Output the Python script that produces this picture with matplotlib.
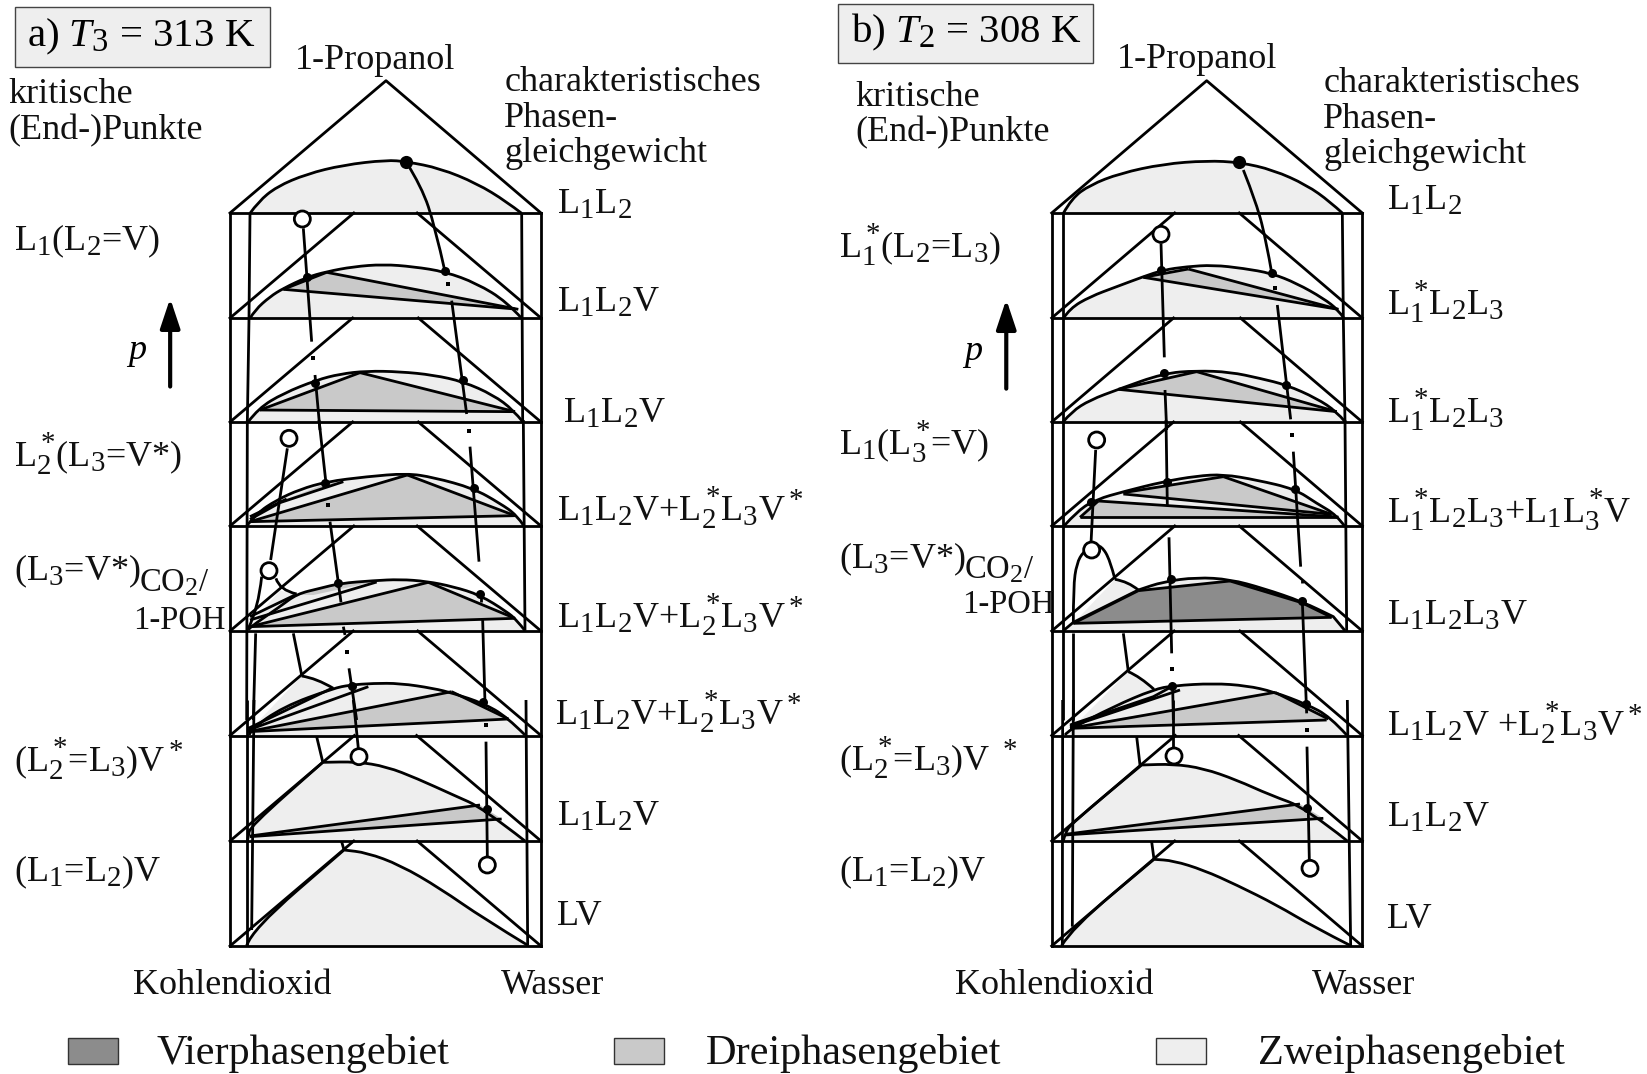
import matplotlib
matplotlib.use('Agg')
import matplotlib.pyplot as plt
import matplotlib._mathtext as mathtext_internal
from matplotlib.path import Path
from matplotlib.patches import PathPatch, Rectangle, Circle, Polygon

plt.rcParams['font.family'] = ['Liberation Serif', 'DejaVu Serif']
plt.rcParams['mathtext.fontset'] = 'custom'
plt.rcParams['mathtext.rm'] = 'Liberation Serif'
plt.rcParams['mathtext.it'] = 'Liberation Serif:italic'
plt.rcParams['mathtext.bf'] = 'Liberation Serif:bold'
plt.rcParams['mathtext.default'] = 'rm'
# subscripts in the picture are bigger than the default
mathtext_internal.SHRINK_FACTOR = 0.8

DARK = '#8c8c8c'
MID = '#c9c9c9'
LIGHT = '#eeeeee'
LW = 2.0
S = 1647 / 1568


def crop(x0, y0, pts):
    return [(x0 + x / 3, y0 + y / 3) for x, y in pts]


def a1(pts): return crop(200, 70, pts)
def a2(pts): return crop(200, 420, pts)
def a3(pts): return crop(200, 700, pts)
def b1(pts): return crop(1030, 70, pts)
def b2(pts): return crop(1030, 420, pts)
def b3(pts): return crop(1030, 700, pts)


plane_y = [213, 318, 422, 526, 631, 735.5, 841, 946]

# panel a -------------------------------------------------------------
a_box = (230, 541, 386, 80.7)
a_domes = [
    a1([(150, 430), (175, 395), (230, 350), (320, 312), (430, 285), (560, 270), (620, 275), (720, 295), (830, 340), (920, 395), (965, 430)]),
    a1([(150, 745), (165, 720), (210, 680), (250, 655), (320, 622), (380, 605), (460, 590), (550, 583), (640, 590), (735, 605), (830, 640), (920, 695), (965, 745)]),
    a1([(145, 1055), (175, 1015), (250, 970), (350, 930), (420, 912), (500, 903), (600, 905), (700, 915), (790, 935), (880, 975), (940, 1020), (968, 1055)]),
    a2([(140, 318), (170, 280), (230, 240), (300, 208), (380, 185), (500, 170), (620, 160), (700, 172), (820, 205), (900, 250), (950, 285), (972, 318)]),
    a2([(145, 630), (145, 625), (240, 560), (290, 522), (360, 505), (420, 490), (520, 482), (600, 478), (680, 484), (760, 500), (840, 525), (920, 575), (950, 600), (975, 632)]),
    a2([(148, 945), (150, 930), (250, 860), (400, 805), (450, 795), (520, 790), (600, 790), (700, 805), (760, 820), (850, 850), (920, 890), (975, 945)]),
    a3([(142, 423), (145, 410), (150, 380), (368, 187), (368, 187), (470, 185), (560, 200), (650, 235), (760, 285), (850, 325), (975, 423)]),
    a3([(140, 737), (155, 690), (432, 450), (432, 450), (500, 458), (600, 495), (720, 565), (850, 655), (985, 737)]),
]
a_three = [
    a1([(250, 658), (380, 607), (950, 717)]),
    a1([(180, 1020), (480, 908), (945, 1025)]),
    a2([(150, 305), (622, 165), (945, 287)]),
    a2([(240, 245), (375, 192), (430, 185), (260, 240)]),
    a2([(150, 620), (685, 487), (945, 595)]),
    a2([(290, 524), (420, 491), (520, 486), (340, 525)]),
    a2([(145, 935), (755, 815), (925, 897)]),
    a3([(150, 408), (840, 315), (905, 357)]),
]
a_four = []
a_lobes = [
    a2([(150, 620), (170, 590), (240, 512), (290, 522), (350, 520)]),
    a2([(150, 930), (305, 768), (350, 775), (400, 805), (450, 800)]),
]
a_curves = [
    a2([(145, 625), (175, 565), (185, 470)]),
    a2([(228, 475), (238, 510), (290, 522)]),
    a2([(305, 768), (350, 775), (400, 805)]),
    a1([(618, 275), (665, 350), (705, 470), (735, 605)]),
]
a_lines = [
    a1([(250, 658), (380, 607)]), a1([(250, 658), (945, 717)]), a1([(380, 607), (955, 718)]),
    a1([(180, 1020), (480, 908)]), a1([(180, 1020), (945, 1025)]), a1([(480, 908), (945, 1025)]),
    a2([(150, 305), (622, 165)]), a2([(622, 165), (945, 287)]), a2([(150, 305), (945, 287)]),
    a2([(150, 290), (260, 237)]), a2([(150, 298), (240, 248)]), a2([(240, 248), (430, 185)]),
    a2([(150, 620), (685, 487)]), a2([(685, 487), (945, 595)]), a2([(150, 620), (945, 595)]),
    a2([(150, 600), (530, 486)]), a2([(150, 590), (285, 525)]),
    a2([(145, 925), (395, 805)]), a2([(145, 930), (505, 800)]), a2([(145, 935), (755, 815)]),
    a2([(755, 815), (925, 897)]), a2([(145, 935), (925, 897)]),
    a3([(150, 408), (840, 315)]), a3([(150, 410), (905, 357)]),
    # critical curves
    a1([(310, 475), (335, 815)]), a1([(345, 915), (360, 1080)]),
    a1([(755, 692), (800, 1032)]),
    a2([(357, 0), (378, 190)]), a2([(390, 305), (423, 547)]), a2([(430, 620), (435, 645)]),
    a2([(447, 745), (470, 900)]), a3([(460, 0), (475, 145)]),
    a2([(262, 85), (212, 420)]), a2([(280, 640), (305, 765)]),
    a2([(810, 80), (837, 425)]), a2([(843, 525), (843, 545)]), a2([(848, 600), (855, 850)]),
    a3([(858, 125), (862, 470)]),
    a3([(350, 110), (368, 185)]), a3([(425, 425), (432, 450)]),
    # inner verticals
    a1([(150, 430), (147, 745), (142, 1057)]), a2([(142, 0), (140, 900)]), a3([(140, 0), (140, 737)]),
    a2([(167, 640), (160, 900)]), a3([(162, 0), (155, 690)]),
    a1([(965, 430), (968, 1057)]), a2([(970, 0), (975, 632)]), a3([(978, 0), (983, 737)]),
]
a_dots = a1([(735, 603), (320, 622), (788, 930), (345, 938)]) + a2([(375, 190), (822, 205), (415, 490), (840, 522), (850, 845), (455, 797)]) + a3([(860, 328)])
a_big_dot = a1([(618, 275)])
a_specks = a1([(743, 643), (340, 865)]) + a2([(806, 32), (385, 255), (441, 695)]) + a3([(857, 75)])
a_open = a1([(307, 447)]) + a2([(267, 55), (207, 452)]) + a3([(477, 170), (862, 495)])

# panel b -------------------------------------------------------------
b_box = (1051.7, 1362.3, 1206.7, 80.7)
b_domes = [
    b1([(100, 430), (125, 385), (180, 345), (270, 310), (400, 282), (530, 272), (630, 277), (730, 300), (830, 345), (900, 395), (938, 430)]),
    b1([(100, 745), (120, 715), (180, 680), (260, 650), (340, 620), (400, 600), (470, 590), (550, 585), (640, 595), (725, 610), (800, 640), (880, 685), (925, 720), (942, 745)]),
    b1([(100, 1055), (125, 1025), (180, 990), (265, 958), (400, 910), (500, 902), (600, 906), (690, 925), (770, 945), (860, 985), (920, 1025), (945, 1055)]),
    b2([(100, 320), (145, 270), (200, 238), (280, 215), (400, 185), (500, 168), (580, 163), (680, 180), (795, 207), (860, 250), (920, 285), (945, 320)]),
    b2([(100, 632), (130, 607), (130, 607), (325, 510), (325, 510), (400, 485), (500, 472), (600, 478), (700, 505), (817, 545), (910, 590), (910, 590), (945, 632)]),
    b2([(105, 945), (115, 930), (250, 860), (372, 808), (430, 797), (550, 790), (650, 797), (730, 815), (830, 853), (900, 890), (950, 945)]),
    b3([(100, 423), (105, 400), (125, 370), (335, 195), (335, 195), (430, 192), (520, 205), (620, 240), (720, 285), (830, 325), (952, 423)]),
    b3([(95, 737), (125, 685), (372, 478), (372, 478), (430, 482), (520, 510), (620, 555), (740, 615), (850, 680), (962, 737)]),
]
b_three = [
    b1([(340, 622), (475, 597), (925, 718)]),
    b1([(265, 958), (500, 905), (920, 1025)]),
    b2([(280, 218), (580, 170), (905, 283)]),
    b2([(150, 292), (205, 243), (925, 291)]),
    b2([(120, 920), (735, 817), (895, 897)]),
    b3([(105, 403), (810, 312), (880, 355)]),
]
b_four = [
    b2([(130, 610), (325, 512), (600, 483), (815, 548), (905, 592)]),
]
b_lobes = [
    b2([(130, 610), (255, 478), (295, 485), (325, 510), (350, 520)]),
    b2([(125, 925), (295, 755), (330, 770), (372, 808), (430, 800)]),
]
b_curves = [
    b2([(130, 610), (130, 500), (140, 430), (160, 395), (188, 375), (215, 378), (240, 420), (255, 478)]),
    b2([(255, 478), (295, 485), (325, 510)]),
    b2([(295, 755), (330, 770), (372, 808)]),
    b1([(640, 300), (680, 400), (710, 520), (725, 608)]),
]
b_lines = [
    b1([(340, 622), (475, 597)]), b1([(340, 622), (925, 718)]), b1([(475, 597), (925, 718)]),
    b1([(265, 958), (500, 905)]), b1([(265, 958), (920, 1025)]), b1([(500, 905), (920, 1025)]),
    b2([(280, 218), (580, 170)]), b2([(580, 170), (905, 283)]), b2([(280, 222), (905, 283)]),
    b2([(150, 292), (205, 243)]), b2([(205, 243), (925, 291)]), b2([(150, 292), (925, 292)]),
    b2([(130, 610), (325, 512)]), b2([(325, 512), (600, 483)]), b2([(600, 483), (815, 548)]),
    b2([(815, 548), (905, 592)]), b2([(130, 610), (905, 592)]),
    b2([(120, 915), (370, 830), (425, 800)]), b2([(120, 920), (450, 810)]), b2([(120, 925), (735, 817)]),
    b2([(735, 817), (895, 897)]), b2([(120, 925), (890, 900)]),
    b3([(105, 403), (810, 312)]), b3([(105, 405), (880, 355)]),
    # critical curves
    b1([(393, 520), (403, 862)]), b1([(405, 960), (410, 1080)]), b2([(408, 0), (412, 258)]),
    b1([(742, 705), (782, 1048)]),
    b2([(790, 95), (812, 440)]), b2([(815, 480), (815, 490)]), b2([(817, 545), (830, 880)]),
    b3([(831, 140), (838, 480)]),
    b2([(197, 90), (183, 370)]), b2([(417, 352), (425, 700)]),
    b2([(428, 800), (430, 900)]), b3([(430, 0), (430, 140)]),
    b2([(280, 640), (295, 755)]), b3([(320, 110), (330, 195)]), b3([(365, 425), (372, 478)]),
    # inner verticals
    b1([(98, 430), (98, 1057)]), b2([(98, 0), (98, 900)]), b3([(98, 0), (97, 738)]),
    b2([(130, 640), (130, 900)]), b3([(130, 0), (127, 680)]),
    b1([(937, 430), (940, 745), (945, 1057)]), b2([(945, 0), (950, 633)]), b3([(952, 0), (962, 738)]),
]
b_dots = b1([(393, 600), (725, 608), (402, 908), (768, 945)]) + b2([(412, 185), (795, 207), (182, 245), (422, 477), (817, 543), (828, 853), (427, 798)]) + b3([(832, 325)])
b_big_dot = b1([(628, 277)])
b_specks = b1([(735, 655)]) + b2([(787, 45), (426, 748)]) + b3([(830, 90)])
b_open = b1([(393, 493)]) + b2([(200, 60), (185, 390)]) + b3([(432, 168), (840, 505)])

# texts: label, x, baseline y in the shrunk picture ---------------------
top_texts = ['1-Propanol', 'kritische', '(End-)Punkte', 'charakteristisches', 'Phasen-', 'gleichgewicht', 'Kohlendioxid', 'Wasser']
a_top_x = [282, 9, 9, 481, 481, 481, 128, 478]
a_top_y = [64, 97, 131, 85, 119, 153, 945, 945]
b_top_x = [1064, 815, 815, 1261, 1261, 1261, 910, 1250]
b_top_y = [63, 99, 133, 86, 120, 154, 945, 945]

a_labels = ['L$_1$L$_2$', 'L$_1$L$_2$V', 'L$_1$L$_2$V', 'L$_1$L$_2$V+L$_2^*\\!$L$_3$V$^*$', 'L$_1$L$_2$V+L$_2^*\\!$L$_3$V$^*$',
            'L$_1$L$_2$V+L$_2^*\\!$L$_3$V$^*$', 'L$_1$L$_2$V', 'LV',
            'L$_1$(L$_2$=V)', 'L$_2^*\\!$(L$_3$=V*)', '(L$_3$=V*)', '(L$_2^*\\!$=L$_3$)V$^*$', '(L$_1$=L$_2$)V']
a_label_x = [531, 531, 537, 531, 531, 529, 531, 531, 14, 14, 14, 14, 14]
a_label_y = [202, 295, 401, 494, 596, 688, 785, 879, 237, 443, 551, 733, 838]

b_labels = ['L$_1$L$_2$', 'L$_1^*\\!$L$_2$L$_3$', 'L$_1^*\\!$L$_2$L$_3$', 'L$_1^*\\!$L$_2$L$_3$+L$_1$L$_3^*\\!$V', 'L$_1$L$_2$L$_3$V',
            'L$_1$L$_2$V +L$_2^*\\!$L$_3$V$^*$', 'L$_1$L$_2$V', 'LV',
            'L$_1^*\\!$(L$_2$=L$_3$)', 'L$_1$(L$_3^*\\!$=V)', '(L$_3$=V*)', '(L$_2^*\\!$=L$_3$)V $^*$', '(L$_1$=L$_2$)V']
b_label_x = [1321, 1321, 1321, 1321, 1321, 1321, 1321, 1321, 800, 800, 800, 800, 800]
b_label_y = [198, 298, 401, 496, 593, 699, 786, 882, 244, 431, 540, 732, 838]

small_texts = ['CO$_2$/', '1-POH']
a_small_x = [133, 128]
a_small_y = [561, 597]
b_small_x = [919, 917]
b_small_y = [549, 582]

legend_names = ['Vierphasengebiet', 'Dreiphasengebiet', 'Zweiphasengebiet']
legend_colors = [DARK, MID, LIGHT]
legend_box_x = [65, 585, 1101]
legend_text_x = [149, 672, 1198]


def smooth_path(pts, close=False):
    # quadratic pieces through the midpoints, a doubled point gives a corner
    verts = [pts[0]]
    codes = [Path.MOVETO]
    n = len(pts)
    for i in range(1, n - 1):
        end = pts[-1] if i == n - 2 else ((pts[i][0] + pts[i + 1][0]) / 2, (pts[i][1] + pts[i + 1][1]) / 2)
        verts += [pts[i], end]
        codes += [Path.CURVE3, Path.CURVE3]
    if n == 2:
        verts.append(pts[1])
        codes.append(Path.LINETO)
    if close:
        verts.append(pts[0])
        codes.append(Path.CLOSEPOLY)
    return Path(verts, codes)


def draw_panel(ax, box, domes, three, four, lobes, curves, lines, dots, big_dot, specks, opened):
    left, right, apex_x, apex_y = box
    slope = (apex_x - left) / (plane_y[0] - apex_y)

    for dome in domes:
        ax.add_patch(PathPatch(smooth_path(dome, close=True), fc=LIGHT, ec='none', zorder=1))
    for lobe in lobes:
        ax.add_patch(Polygon(lobe, fc=LIGHT, ec='none', zorder=1))
    for tri in three:
        ax.add_patch(Polygon(tri, fc=MID, ec='none', zorder=2))
    for quad in four:
        ax.add_patch(Polygon(quad, fc=DARK, ec='none', zorder=2))

    for dome in domes:
        ax.add_patch(PathPatch(smooth_path(dome), fc='none', ec='black', lw=LW, zorder=3))
    for curve in curves:
        ax.add_patch(PathPatch(smooth_path(curve), fc='none', ec='black', lw=LW, zorder=3))
    for line in lines:
        ax.plot([p[0] for p in line], [p[1] for p in line], color='black', lw=LW, zorder=3, solid_capstyle='butt')

    # prism: roof, outer edges, planes and their cut off triangles
    ax.plot([left, apex_x, right], [plane_y[0], apex_y, plane_y[0]], color='black', lw=LW, zorder=3)
    ax.plot([left, left], [plane_y[0], plane_y[-1]], color='black', lw=LW, zorder=3)
    ax.plot([right, right], [plane_y[0], plane_y[-1]], color='black', lw=LW, zorder=3)
    for i, y in enumerate(plane_y):
        ax.plot([left, right], [y, y], color='black', lw=LW, zorder=3)
        if i == 0:
            continue
        dy = y - plane_y[i - 1]
        ax.plot([left, left + slope * dy], [y, plane_y[i - 1]], color='black', lw=LW, zorder=3)
        ax.plot([right, right - slope * dy], [y, plane_y[i - 1]], color='black', lw=LW, zorder=3)

    ax.scatter([p[0] for p in dots], [p[1] for p in dots], s=42, color='black', zorder=4, linewidths=0)
    ax.scatter([p[0] for p in big_dot], [p[1] for p in big_dot], s=90, color='black', zorder=4, linewidths=0)
    ax.scatter([p[0] for p in specks], [p[1] for p in specks], s=7, color='black', marker='s', zorder=4, linewidths=0)
    for p in opened:
        ax.add_patch(Circle(p, 8, fc='white', ec='black', lw=LW, zorder=5))


def put_texts(ax, labels, xs, ys, size=26):
    for t, x, y in zip(labels, xs, ys):
        ax.text((x - 1) * S, (y + 1.5) * S, t, fontsize=size, va='baseline', ha='left', color='#111111', zorder=6)


fig = plt.figure(figsize=(16.47, 10.74), dpi=100)
ax = fig.add_axes([0, 0, 1, 1])
ax.set_xlim(0, 1647)
ax.set_ylim(1074, 0)
ax.axis('off')

draw_panel(ax, a_box, a_domes, a_three, a_four, a_lobes, a_curves, a_lines, a_dots, a_big_dot, a_specks, a_open)
draw_panel(ax, b_box, b_domes, b_three, b_four, b_lobes, b_curves, b_lines, b_dots, b_big_dot, b_specks, b_open)

put_texts(ax, top_texts, a_top_x, a_top_y)
put_texts(ax, top_texts, b_top_x, b_top_y)
put_texts(ax, a_labels, a_label_x, a_label_y)
put_texts(ax, b_labels, b_label_x, b_label_y)
put_texts(ax, small_texts, a_small_x, a_small_y, size=23.5)
put_texts(ax, small_texts, b_small_x, b_small_y, size=23.5)

# titles
ax.add_patch(Rectangle((14 * S, 7 * S), 243 * S, 57 * S, fc=LIGHT, ec='#444444', lw=1, zorder=2))
ax.add_patch(Rectangle((798 * S, 4 * S), 243 * S, 56 * S, fc=LIGHT, ec='#444444', lw=1, zorder=2))
ax.text(26 * S, 44 * S, 'a) $\\mathit{T}_3$ = 313 K', fontsize=29.4, va='baseline', zorder=6)
ax.text(810 * S, 40 * S, 'b) $\\mathit{T}_2$ = 308 K', fontsize=29.4, va='baseline', zorder=6)

# pressure arrows
ax.text(122 * S, 342 * S, 'p', fontsize=26, style='italic', va='baseline')
ax.text(918 * S, 343 * S, 'p', fontsize=26, style='italic', va='baseline')
for x, y0, y1 in [(162, 368, 284), (958, 370, 285)]:
    ax.annotate('', xy=(x * S, y1 * S), xytext=(x * S, y0 * S),
                arrowprops=dict(arrowstyle='-|>,head_width=0.6,head_length=1.8', color='black', lw=3, shrinkA=0, shrinkB=0))

# legend
for name, color, bx, tx in zip(legend_names, legend_colors, legend_box_x, legend_text_x):
    ax.add_patch(Rectangle((bx * S, 988 * S), 47 * S, 25 * S, fc=color, ec='#333333', lw=1))
    ax.text(tx * S, 1013 * S, name, fontsize=30.4, va='baseline', color='#111111')

fig.savefig('out.png', dpi=100)
